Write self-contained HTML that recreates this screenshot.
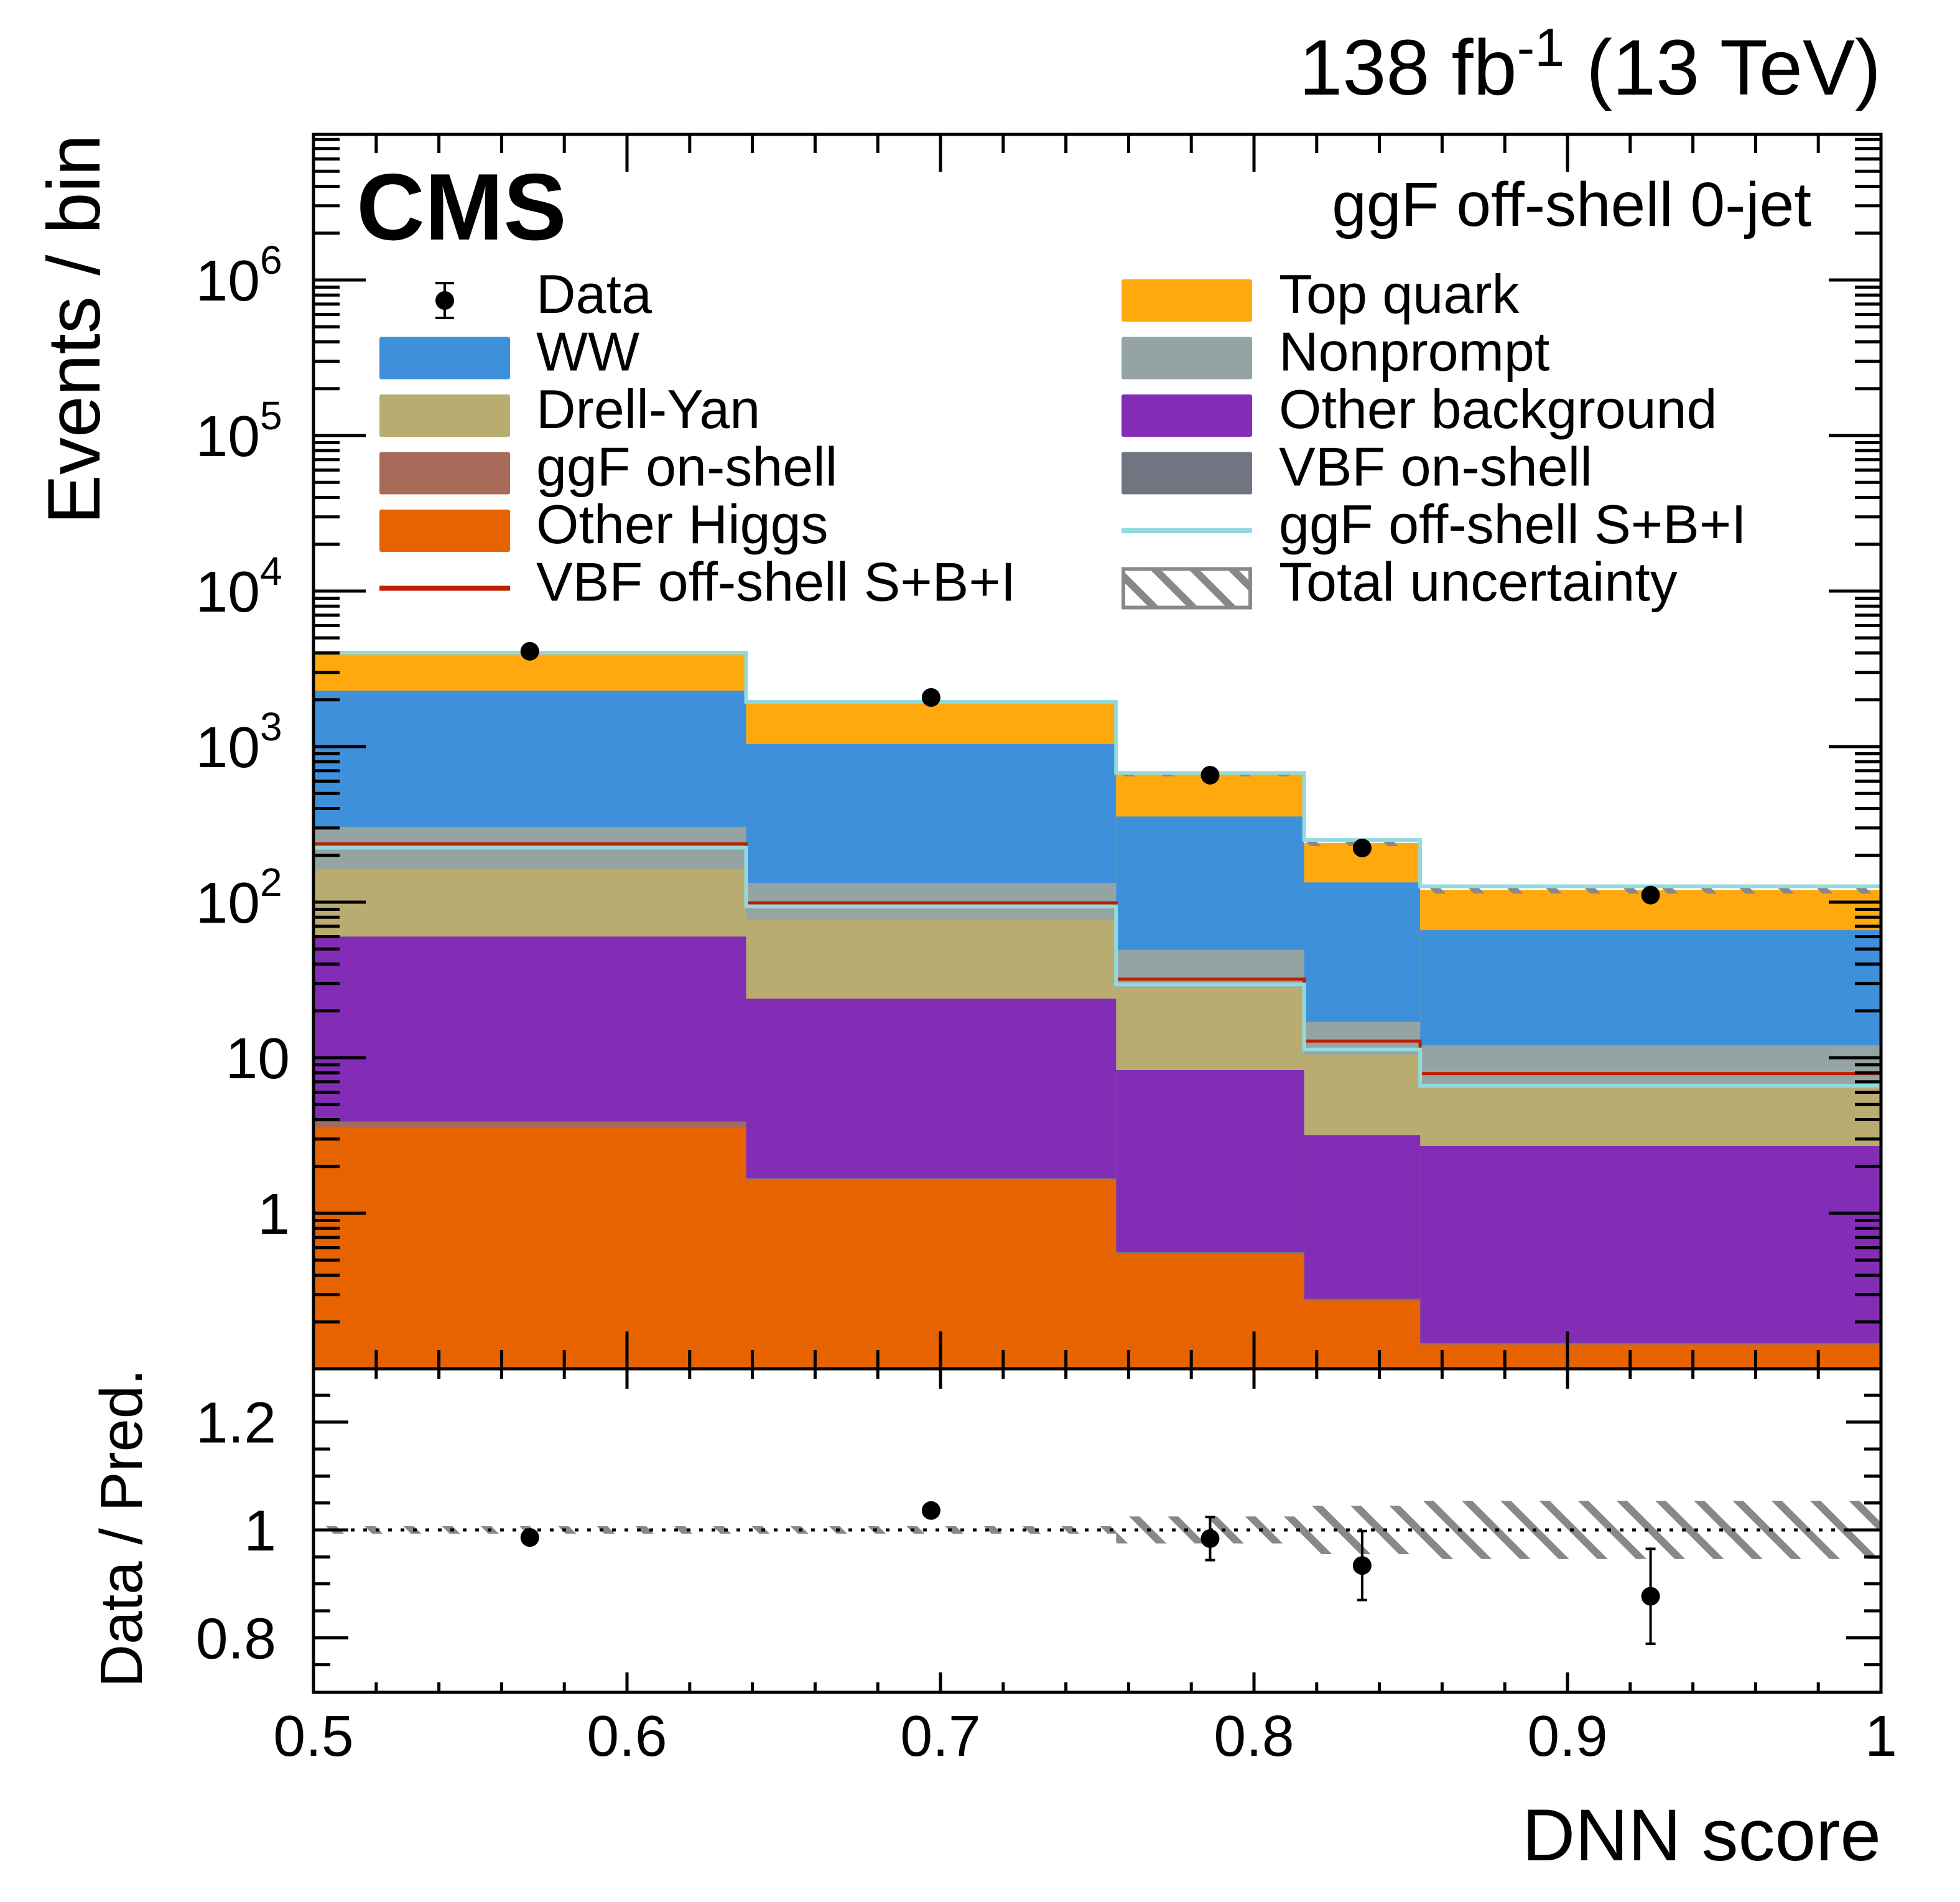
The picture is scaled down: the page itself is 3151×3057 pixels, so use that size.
<!DOCTYPE html>
<html><head><meta charset="utf-8"><style>
html,body{margin:0;padding:0;background:#fff;}
svg{display:block;font-family:"Liberation Sans",Arial,sans-serif;}
</style></head><body>
<svg id="chart" xmlns="http://www.w3.org/2000/svg" width="3151" height="3057" viewBox="0 0 3151 3057">
<defs>
<pattern id="hatch" patternUnits="userSpaceOnUse" width="44" height="44" patternTransform="rotate(-45)">
<rect x="0" y="0" width="12" height="44" fill="#888"/>
</pattern>
<clipPath id="clipU"><rect x="504" y="216" width="2520" height="1984"/></clipPath>
<clipPath id="clipR"><rect x="504" y="2200" width="2520" height="520"/></clipPath>
</defs>
<g id="upper" clip-path="url(#clipU)"></g>
<g id="ratio" clip-path="url(#clipR)"></g>
<g id="axes"></g>
<text x="3024" y="152" font-size="126" text-anchor="end">138 fb<tspan dy="-46" font-size="86">-1</tspan><tspan dy="46"> (13 TeV)</tspan></text>
<text x="573" y="385" font-size="152" font-weight="bold">CMS</text>
<text x="2912" y="363" font-size="100" text-anchor="end">ggF off-shell 0-jet</text>
<text transform="translate(160,216) rotate(-90)" font-size="120" text-anchor="end">Events / bin</text>
<text transform="translate(228,2200) rotate(-90)" font-size="96" text-anchor="end">Data / Pred.</text>
<text x="3024" y="2990" font-size="118" text-anchor="end">DNN score</text>
<g id="legend"></g>
</svg>
<script>
const edges = [0.5, 0.638, 0.756, 0.816, 0.853, 1.0];
const otherHiggs = [3.53, 1.65, 0.55, 0.275, 0.143];
const ggfOnShell = [0.31, 0.01, 0.005, 0.002, 0.001];
const vbfOnShell = [0.05, 0.02, 0.01, 0.005, 0.003];
const otherBkg = [56.2, 22.3, 7.75, 2.9, 2.56];
const drellYan = [104, 53, 20, 7.3, 3.8];
const nonprompt = [141, 56, 21, 6.5, 5.5];
const ww = [1985, 907, 306, 117, 54];
const topQuark = [1700, 890, 305, 106, 54];
const ggfOffShell = [224, 94, 29.5, 11.3, 6.6];
const vbfOffShell = [237, 99, 32, 12.8, 7.9];
const dataVals = [4100, 2070, 655, 223, 111];
const ratioVals = [0.986, 1.036, 0.984, 0.934, 0.877];
const ratioErr = [0.006, 0.011, 0.04, 0.064, 0.088];
const uncRel = [0.007, 0.007, 0.025, 0.045, 0.054];
const xTicks = [0.5, 0.6, 0.7, 0.8, 0.9, 1.0];
const xTickLabels = ["0.5", "0.6", "0.7", "0.8", "0.9", "1"];
const ratioTicks = [0.8, 1.0, 1.2];
const ratioTickLabels = ["0.8", "1", "1.2"];

const NS = "http://www.w3.org/2000/svg";
const X0 = 504, X1 = 3024, UT = 216, UB = 2200, RB = 2720;
const DEC = 250;
const xs = v => X0 + (v - 0.5) / 0.5 * (X1 - X0);
const ys = v => UB - (Math.log10(v) + 1) * DEC;
const yr = v => 2459 - (v - 1.0) * 866.7;
function mk(tag, attrs, parent) {
  const e = document.createElementNS(NS, tag);
  for (const k in attrs) e.setAttribute(k, attrs[k]);
  parent.appendChild(e);
  return e;
}
const upper = document.getElementById('upper');
const ratio = document.getElementById('ratio');
const axes = document.getElementById('axes');
const legend = document.getElementById('legend');

const procs = [
  ['other-higgs', otherHiggs, '#e76300'],
  ['ggf-on-shell', ggfOnShell, '#a96b59'],
  ['vbf-on-shell', vbfOnShell, '#717581'],
  ['other-background', otherBkg, '#832db6'],
  ['drell-yan', drellYan, '#b9ac70'],
  ['nonprompt', nonprompt, '#94a4a2'],
  ['ww', ww, '#3f90da'],
  ['top-quark', topQuark, '#ffa90e']
];
const nb = edges.length - 1;
const cum = new Array(nb).fill(0);
const layers = [];
procs.forEach(p => {
  const lower = cum.slice();
  for (let i = 0; i < nb; i++) cum[i] += p[1][i];
  layers.push([p[0], p[2], lower, cum.slice()]);
});
for (let j = layers.length - 1; j >= 0; j--) {
  const L = layers[j];
  for (let i = 0; i < nb; i++) {
    const r = mk('rect', {x: xs(edges[i]), y: ys(L[3][i]), width: xs(edges[i+1]) - xs(edges[i]), height: UB - ys(L[3][i]) + 5, fill: L[1]}, upper);
    
    
  }
}
const total = cum.slice();
for (let i = 0; i < nb; i++) {
  const hi = total[i] * (1 + uncRel[i]), lo = total[i] * (1 - uncRel[i]);
  const r = mk('rect', {x: xs(edges[i]), y: ys(hi), width: xs(edges[i+1]) - xs(edges[i]), height: ys(lo) - ys(hi), fill: 'url(#hatch)'}, upper);
  
  
}
function stepPath(vals, fy) {
  let d = '';
  for (let i = 0; i < nb; i++) {
    const y = fy(vals[i]);
    d += (i === 0 ? 'M' : 'L') + xs(edges[i]) + ',' + y + 'L' + xs(edges[i+1]) + ',' + y;
  }
  return d;
}
const totLine = mk('path', {d: stepPath(total.map((t,i)=>t*(1+uncRel[i])), ys), fill: 'none', stroke: '#92dadd', 'stroke-width': 6}, upper);


const vbfL = mk('path', {d: stepPath(vbfOffShell, ys), fill: 'none', stroke: '#bd1f01', 'stroke-width': 5}, upper);


const ggfL = mk('path', {d: stepPath(ggfOffShell, ys), fill: 'none', stroke: '#92dadd', 'stroke-width': 6}, upper);


for (let i = 0; i < nb; i++) {
  const cx = xs((edges[i] + edges[i+1]) / 2);
  const c = mk('circle', {cx: cx, cy: ys(dataVals[i]), r: 15, fill: '#000'}, upper);
  
  
}
for (let i = 0; i < nb; i++) {
  const r = mk('rect', {x: xs(edges[i]), y: yr(1 + uncRel[i]), width: xs(edges[i+1]) - xs(edges[i]), height: yr(1 - uncRel[i]) - yr(1 + uncRel[i]), fill: 'url(#hatch)'}, ratio);
  
  
}
const one = mk('line', {x1: X0, x2: X1, y1: yr(1), y2: yr(1), stroke: '#000', 'stroke-width': 5, 'stroke-dasharray': '6 14'}, ratio);


for (let i = 0; i < nb; i++) {
  const cx = xs((edges[i] + edges[i+1]) / 2);
  const g = mk('g', {}, ratio);
  
  
  mk('line', {x1: cx, x2: cx, y1: yr(ratioVals[i] + ratioErr[i]), y2: yr(ratioVals[i] - ratioErr[i]), stroke: '#000', 'stroke-width': 4}, g);
  mk('line', {x1: cx-8, x2: cx+8, y1: yr(ratioVals[i] + ratioErr[i]), y2: yr(ratioVals[i] + ratioErr[i]), stroke: '#000', 'stroke-width': 4}, g);
  mk('line', {x1: cx-8, x2: cx+8, y1: yr(ratioVals[i] - ratioErr[i]), y2: yr(ratioVals[i] - ratioErr[i]), stroke: '#000', 'stroke-width': 4}, g);
  mk('circle', {cx: cx, cy: yr(ratioVals[i]), r: 15, fill: '#000'}, g);
}
const f1 = mk('rect', {x: X0, y: UT, width: X1 - X0, height: UB - UT, fill: 'none', stroke: '#000', 'stroke-width': 5}, axes);


const f2 = mk('rect', {x: X0, y: UB, width: X1 - X0, height: RB - UB, fill: 'none', stroke: '#000', 'stroke-width': 5}, axes);


function tk(x1, y1, x2, y2) { mk('line', {x1, y1, x2, y2, stroke: '#000', 'stroke-width': 5}, axes); }
for (let k = 0; k <= 25; k++) {
  const v = 0.5 + k * 0.02, x = xs(v);
  const major = k % 5 === 0;
  const Lu = major ? 60 : 30, Lr = major ? 32 : 16;
  tk(x, UB, x, UB - Lu); tk(x, UT, x, UT + Lu);
  tk(x, RB, x, RB - Lr); tk(x, UB, x, UB + Lr);
}
xTicks.forEach((v, i) => {
  const t = mk('text', {x: xs(v), y: 2822, 'font-size': 93, 'text-anchor': 'middle'}, axes);
  t.textContent = xTickLabels[i];
  
  
});
for (let e = -1; e <= 6; e++) {
  for (let m = 1; m <= 9; m++) {
    const v = m * Math.pow(10, e), y = ys(v);
    if (y < UT || y > UB) continue;
    const L = m === 1 ? 84 : 42;
    tk(X0, y, X0 + L, y); tk(X1, y, X1 - L, y);
  }
}
const yLabs = [[1,'1'],[10,'10'],[100,'10','2'],[1000,'10','3'],[10000,'10','4'],[100000,'10','5'],[1000000,'10','6']];
yLabs.forEach(l => {
  const t = mk('text', {x: l[2] ? 418 : 466, y: ys(l[0]) + 33, 'font-size': 93, 'text-anchor': 'end'}, axes);
  t.textContent = l[1];
  
  
  if (l[2]) {
    const s = mk('text', {x: 418, y: ys(l[0]) - 10, 'font-size': 64}, axes);
    s.textContent = l[2];
    
    
  }
});
for (let k = 0; k <= 12; k++) {
  const v = 0.7 + k * 0.05, y = yr(v);
  if (y <= UB + 2 || y >= RB - 2) continue;
  const major = Math.abs(Math.round(v * 10) - v * 10) < 1e-6 && Math.round(v * 10) % 2 === 0;
  const L = major ? 56 : 27;
  tk(X0, y, X0 + L, y); tk(X1, y, X1 - L, y);
}
ratioTicks.forEach((v, i) => {
  const t = mk('text', {x: 444, y: yr(v) + 33, 'font-size': 93, 'text-anchor': 'end'}, axes);
  t.textContent = ratioTickLabels[i];
  
  
});
const legItems = [
  ['Data', 'data', null, 0, 0], ['WW', 'box', '#3f90da', 0, 1], ['Drell-Yan', 'box', '#b9ac70', 0, 2],
  ['ggF on-shell', 'box', '#a96b59', 0, 3], ['Other Higgs', 'box', '#e76300', 0, 4], ['VBF off-shell S+B+I', 'line', '#bd1f01', 0, 5],
  ['Top quark', 'box', '#ffa90e', 1, 0], ['Nonprompt', 'box', '#94a4a2', 1, 1], ['Other background', 'box', '#832db6', 1, 2],
  ['VBF on-shell', 'box', '#717581', 1, 3], ['ggF off-shell S+B+I', 'line', '#92dadd', 1, 4], ['Total uncertainty', 'hatch', null, 1, 5]
];
legItems.forEach(it => {
  const bx = it[3] ? 1803 : 610, tx = it[3] ? 2056 : 862;
  const cy = 483 + it[4] * 92.5;
  const g = mk('g', {}, legend);
  
  
  if (it[1] === 'box') mk('rect', {x: bx, y: cy - 34, width: 210, height: 68, fill: it[2], rx: 3}, g);
  else if (it[1] === 'line') mk('line', {x1: bx, x2: bx + 210, y1: cy, y2: cy, stroke: it[2], 'stroke-width': 8}, g);
  else if (it[1] === 'hatch') mk('rect', {x: bx + 3, y: cy - 31, width: 204, height: 62, fill: 'url(#hatch)', stroke: '#888', 'stroke-width': 6}, g);
  else {
    const cx = bx + 105;
    mk('line', {x1: cx, x2: cx, y1: cy - 28, y2: cy + 28, stroke: '#000', 'stroke-width': 4}, g);
    mk('line', {x1: cx - 15, x2: cx + 15, y1: cy - 28, y2: cy - 28, stroke: '#000', 'stroke-width': 4}, g);
    mk('line', {x1: cx - 15, x2: cx + 15, y1: cy + 28, y2: cy + 28, stroke: '#000', 'stroke-width': 4}, g);
    mk('circle', {cx: cx, cy: cy, r: 15, fill: '#000'}, g);
  }
  const t = mk('text', {x: tx, y: cy + 20, 'font-size': 88}, g);
  t.textContent = it[0];
});
</script>
</body></html>
